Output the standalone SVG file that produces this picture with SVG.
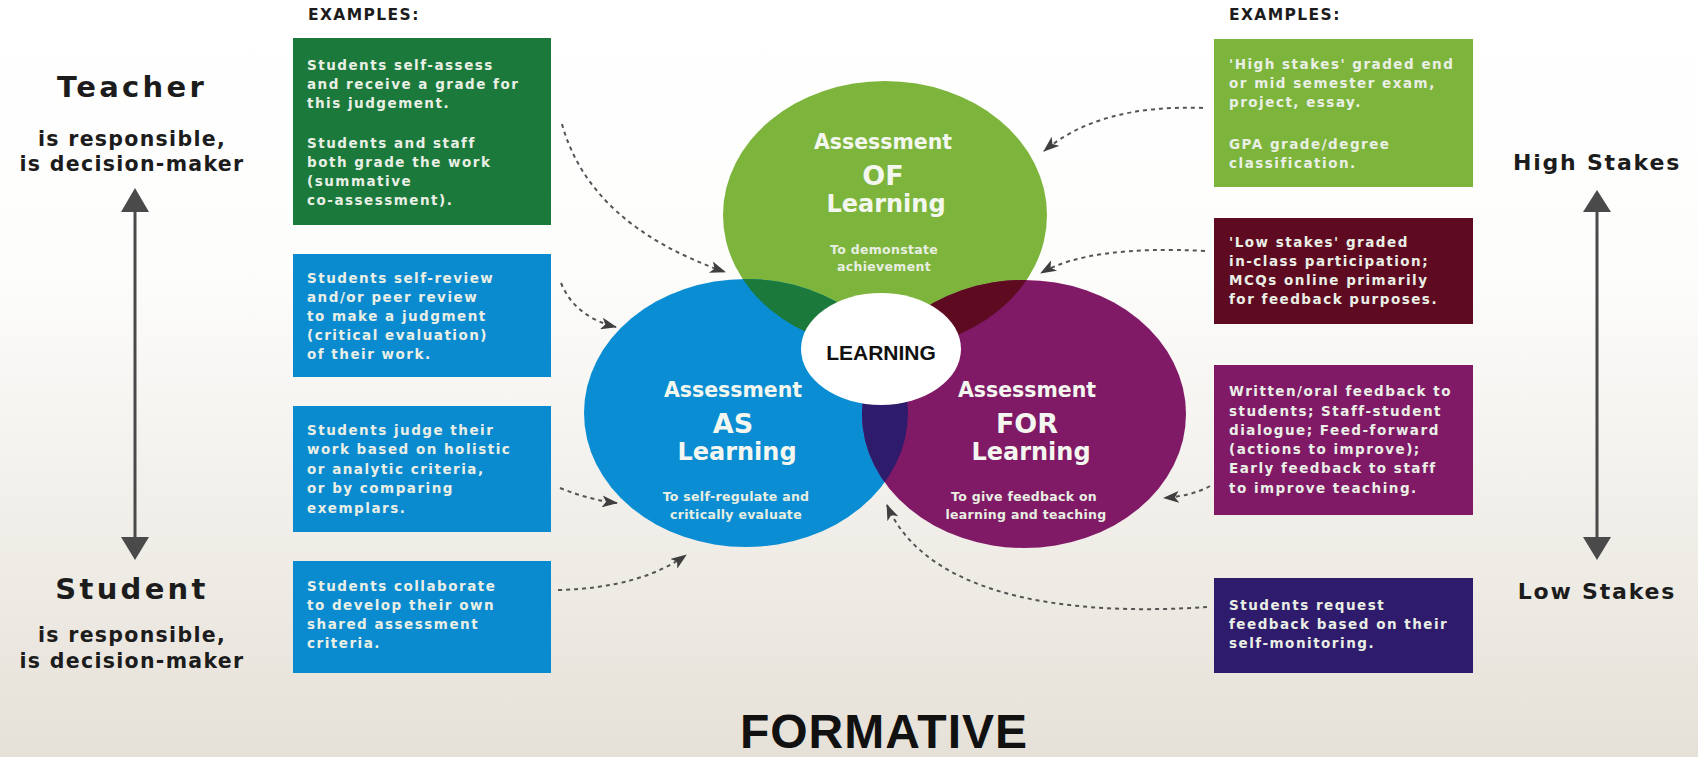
<svg xmlns="http://www.w3.org/2000/svg" width="1698" height="757" viewBox="0 0 1698 757">
<defs>
<linearGradient id="bg" x1="0" y1="0" x2="0" y2="1">
<stop offset="0" stop-color="#ffffff"/>
<stop offset="0.35" stop-color="#fdfdfc"/>
<stop offset="1" stop-color="#e6e1d8"/>
</linearGradient>
<marker id="ah" markerWidth="16" markerHeight="12" refX="15" refY="6" orient="auto" markerUnits="userSpaceOnUse">
<path d="M0,0 L16,6 L0,12 L4,6 Z" fill="#3f3f3f"/>
</marker>
<clipPath id="cG"><ellipse cx="885" cy="215" rx="162" ry="134"/></clipPath>
<clipPath id="cB"><ellipse cx="746" cy="413" rx="162" ry="134"/></clipPath>
<style>
.lbl{font-family:"DejaVu Sans",sans-serif;font-weight:bold;fill:#1c1c1c}
.big{font-size:29px;letter-spacing:3.3px}
.sub{font-size:20.5px;letter-spacing:1.3px}
.stake{font-size:22px;letter-spacing:1.8px}
.ex{font-family:"DejaVu Sans",sans-serif;font-weight:bold;font-size:15.5px;letter-spacing:1.4px;fill:#1c1c1c}
.bt{font-family:"DejaVu Sans",sans-serif;font-weight:bold;font-size:13.5px;letter-spacing:1.5px;fill:#eaefe6}
.ct{font-family:"DejaVu Sans",sans-serif;font-weight:bold;fill:#f4f7ef;text-anchor:middle}
.c1{font-size:20.5px}
.c2{font-size:27px}
.c3{font-size:24px}
.cs{font-size:12.5px;letter-spacing:0.3px;fill:#e8efe2}
.conn{fill:none;stroke:#555;stroke-width:2;stroke-dasharray:4 4;marker-end:url(#ah)}
.axis{stroke:#4a4a4a;stroke-width:3}
.head{fill:#4a4a4a}
</style>
</defs>
<rect x="0" y="0" width="1698" height="757" fill="url(#bg)"/>

<g id="left-axis">
<text class="lbl big" x="132" y="97" text-anchor="middle">Teacher</text>
<text class="lbl sub" x="132" y="146" text-anchor="middle">is responsible,</text>
<text class="lbl sub" x="132" y="171" text-anchor="middle">is decision-maker</text>
<line class="axis" x1="135" y1="208" x2="135" y2="540"/>
<polygon class="head" points="135,188 121,212 149,212"/>
<polygon class="head" points="135,560 121,537 149,537"/>
<text class="lbl big" x="132" y="599" text-anchor="middle">Student</text>
<text class="lbl sub" x="132" y="642" text-anchor="middle">is responsible,</text>
<text class="lbl sub" x="132" y="668" text-anchor="middle">is decision-maker</text>
</g>

<g id="right-axis">
<text class="lbl stake" x="1597" y="170" text-anchor="middle">High Stakes</text>
<line class="axis" x1="1597" y1="208" x2="1597" y2="540"/>
<polygon class="head" points="1597,190 1583,212 1611,212"/>
<polygon class="head" points="1597,560 1583,537 1611,537"/>
<text class="lbl stake" x="1597" y="599" text-anchor="middle">Low Stakes</text>
</g>

<g id="examples-left"><text class="ex" x="308" y="20">EXAMPLES:</text></g>
<g id="examples-right"><text class="ex" x="1229" y="20">EXAMPLES:</text></g>

<g id="box-self-assess">
<rect x="293" y="38" width="258" height="187" fill="#1b7a3b"/>
<text class="bt" x="307" y="70">Students self-assess</text>
<text class="bt" x="307" y="89">and receive a grade for</text>
<text class="bt" x="307" y="108">this judgement.</text>
<text class="bt" x="307" y="148">Students and staff</text>
<text class="bt" x="307" y="167">both grade the work</text>
<text class="bt" x="307" y="186">(summative</text>
<text class="bt" x="307" y="205">co-assessment).</text>
</g>

<g id="box-self-review">
<rect x="293" y="254" width="258" height="123" fill="#0a8bd0"/>
<text class="bt" x="307" y="283">Students self-review</text>
<text class="bt" x="307" y="302">and/or peer review</text>
<text class="bt" x="307" y="321">to make a judgment</text>
<text class="bt" x="307" y="340">(critical evaluation)</text>
<text class="bt" x="307" y="359">of their work.</text>
</g>

<g id="box-judge">
<rect x="293" y="406" width="258" height="126" fill="#0a8bd0"/>
<text class="bt" x="307" y="435">Students judge their</text>
<text class="bt" x="307" y="454">work based on holistic</text>
<text class="bt" x="307" y="474">or analytic criteria,</text>
<text class="bt" x="307" y="493">or by comparing</text>
<text class="bt" x="307" y="513">exemplars.</text>
</g>

<g id="box-collaborate">
<rect x="293" y="561" width="258" height="112" fill="#0a8bd0"/>
<text class="bt" x="307" y="591">Students collaborate</text>
<text class="bt" x="307" y="610">to develop their own</text>
<text class="bt" x="307" y="629">shared assessment</text>
<text class="bt" x="307" y="648">criteria.</text>
</g>

<g id="box-high-stakes">
<rect x="1214" y="39" width="259" height="148" fill="#7db53c"/>
<text class="bt" x="1229" y="69">'High stakes' graded end</text>
<text class="bt" x="1229" y="88">or mid semester exam,</text>
<text class="bt" x="1229" y="107">project, essay.</text>
<text class="bt" x="1229" y="149">GPA grade/degree</text>
<text class="bt" x="1229" y="168">classification.</text>
</g>

<g id="box-low-stakes">
<rect x="1214" y="218" width="259" height="106" fill="#5e0b22"/>
<text class="bt" x="1229" y="247">'Low stakes' graded</text>
<text class="bt" x="1229" y="266">in-class participation;</text>
<text class="bt" x="1229" y="285">MCQs online primarily</text>
<text class="bt" x="1229" y="304">for feedback purposes.</text>
</g>

<g id="box-feedback">
<rect x="1214" y="365" width="259" height="150" fill="#801a66"/>
<text class="bt" x="1229" y="396">Written/oral feedback to</text>
<text class="bt" x="1229" y="416">students; Staff-student</text>
<text class="bt" x="1229" y="435">dialogue; Feed-forward</text>
<text class="bt" x="1229" y="454">(actions to improve);</text>
<text class="bt" x="1229" y="473">Early feedback to staff</text>
<text class="bt" x="1229" y="493">to improve teaching.</text>
</g>

<g id="box-request">
<rect x="1214" y="578" width="259" height="95" fill="#2f1b6b"/>
<text class="bt" x="1229" y="610">Students request</text>
<text class="bt" x="1229" y="629">feedback based on their</text>
<text class="bt" x="1229" y="648">self-monitoring.</text>
</g>

<g id="venn">
<ellipse id="circle-of" cx="885" cy="215" rx="162" ry="134" fill="#7db53c"/>
<ellipse id="circle-as" cx="746" cy="413" rx="162" ry="134" fill="#0a8dd3"/>
<ellipse id="circle-for" cx="1024" cy="414" rx="162" ry="134" fill="#801a66"/>
<ellipse cx="746" cy="413" rx="162" ry="134" fill="#1b7a3b" clip-path="url(#cG)"/>
<ellipse cx="1024" cy="414" rx="162" ry="134" fill="#5e0b22" clip-path="url(#cG)"/>
<ellipse cx="1024" cy="414" rx="162" ry="134" fill="#2f1b6b" clip-path="url(#cB)"/>
</g>

<g id="node-of">
<text class="ct c1" x="883" y="149">Assessment</text>
<text class="ct c2" x="883" y="185">OF</text>
<text class="ct c3" x="886" y="212">Learning</text>
<text class="ct cs" x="884" y="254">To demonstate</text>
<text class="ct cs" x="884" y="271">achievement</text>
</g>

<g id="node-as">
<text class="ct c1" x="733" y="397">Assessment</text>
<text class="ct c2" x="733" y="433">AS</text>
<text class="ct c3" x="737" y="460">Learning</text>
<text class="ct cs" x="736" y="501">To self-regulate and</text>
<text class="ct cs" x="736" y="519">critically evaluate</text>
</g>

<g id="node-for">
<text class="ct c1" x="1027" y="397">Assessment</text>
<text class="ct c2" x="1027" y="433">FOR</text>
<text class="ct c3" x="1031" y="460">Learning</text>
<text class="ct cs" x="1024" y="501">To give feedback on</text>
<text class="ct cs" x="1026" y="519">learning and teaching</text>
</g>

<g id="node-learning">
<ellipse cx="881" cy="349" rx="80" ry="56" fill="#ffffff"/>
<text x="881" y="360" text-anchor="middle" font-family="'Liberation Sans',Arial,sans-serif" font-weight="bold" font-size="21" fill="#111">LEARNING</text>
</g>

<g id="connectors">
<path class="conn" d="M562 124 Q590 225 725 272"/>
<path class="conn" d="M561 283 Q575 317 616 327"/>
<path class="conn" d="M560 488 Q590 500 617 503"/>
<path class="conn" d="M558 590 Q640 588 686 555"/>
<path class="conn" d="M1203 108 Q1100 104 1044 151"/>
<path class="conn" d="M1205 251 Q1090 245 1041 273"/>
<path class="conn" d="M1210 486 Q1192 496 1164 498"/>
<path class="conn" d="M1207 607 C1090 615 930 605 887 505"/>
</g>

<g id="title">
<text x="884" y="748" text-anchor="middle" font-family="'Liberation Sans',Arial,sans-serif" font-weight="bold" font-size="48" letter-spacing="1" fill="#111">FORMATIVE</text>
</g>
</svg>
